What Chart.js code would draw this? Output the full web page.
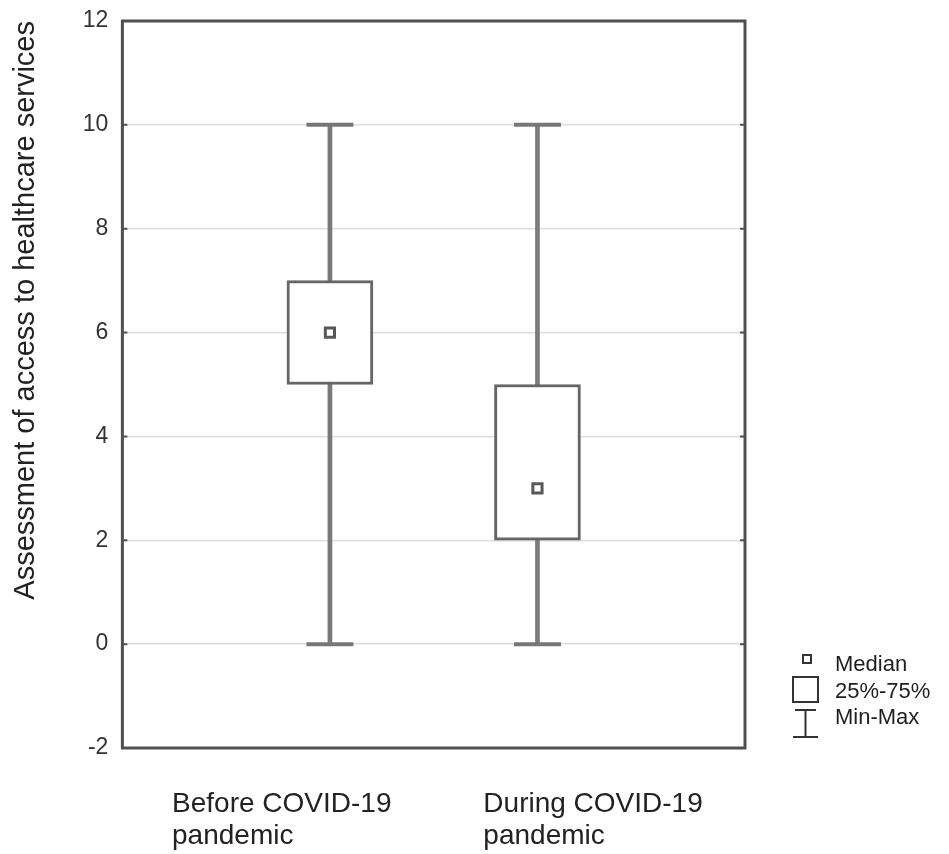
<!DOCTYPE html>
<html>
<head>
<meta charset="utf-8">
<script src="https://cdn.jsdelivr.net/npm/chart.js@4/dist/chart.umd.min.js"></script>
<style>
  html, body { margin: 0; padding: 0; background: #fff; }
  #wrap { width: 949px; height: 854px; }
</style>
</head>
<body>
<div id="wrap"><canvas id="chart"></canvas></div>
<script>
// values
const categories = [['Before COVID-19', 'pandemic'], ['During COVID-19', 'pandemic']];
const minValues = [0, 0];
const q1Values = [5, 2];
const medianValues = [6, 3];
const q3Values = [7, 5];
const maxValues = [10, 10];
const yTickValues = [-2, 0, 2, 4, 6, 8, 10, 12];
const legendLabels = ['Median', '25%-75%', 'Min-Max'];

const FONT = "'Liberation Sans', Arial, sans-serif";

// frame round the plot area
const framePlugin = {
  id: 'frame',
  beforeDatasetsDraw(chart) {
    const { ctx, chartArea: a } = chart;
    ctx.save();
    ctx.strokeStyle = '#505050';
    ctx.lineWidth = 3;
    ctx.strokeRect(a.left, a.top, a.right - a.left, a.bottom - a.top);
    // little inward ticks on both sides
    const y = chart.scales.y;
    ctx.lineWidth = 2;
    yTickValues.forEach(v => {
      const py = y.getPixelForValue(v);
      ctx.beginPath();
      ctx.moveTo(a.left, py); ctx.lineTo(a.left + 5, py);
      ctx.moveTo(a.right, py); ctx.lineTo(a.right - 5, py);
      ctx.stroke();
    });
    ctx.restore();
  }
};

// key at the right, below the plot middle
const keyPlugin = {
  id: 'key',
  afterDraw(chart) {
    const { ctx, chartArea: a } = chart;
    const x0 = a.right + 48;
    const y0 = a.bottom - 89;
    ctx.save();
    ctx.strokeStyle = '#333';
    ctx.lineWidth = 2;
    // median
    ctx.strokeRect(x0 + 10, y0 - 4, 8, 8);
    // box
    ctx.strokeRect(x0, y0 + 18, 25, 25);
    // min-max
    ctx.beginPath();
    ctx.moveTo(x0 + 2, y0 + 51); ctx.lineTo(x0 + 23, y0 + 51);
    ctx.moveTo(x0 + 12.5, y0 + 51); ctx.lineTo(x0 + 12.5, y0 + 78);
    ctx.moveTo(x0, y0 + 78); ctx.lineTo(x0 + 25, y0 + 78);
    ctx.stroke();
    ctx.fillStyle = '#1e1e1e';
    ctx.font = '22px ' + FONT;
    ctx.textBaseline = 'middle';
    ctx.fillText(legendLabels[0], x0 + 42, y0 + 6);
    ctx.fillText(legendLabels[1], x0 + 42, y0 + 33);
    ctx.fillText(legendLabels[2], x0 + 42, y0 + 59);
    ctx.restore();
  }
};

const whiskerData = minValues.map((v, i) => ({ x: i, y: [v, maxValues[i]] }));
const boxData = q1Values.map((v, i) => ({ x: i, y: [v, q3Values[i]] }));
const capData = [];
minValues.forEach((v, i) => { capData.push({ x: i, y: v }); capData.push({ x: i, y: maxValues[i] }); });
const medianData = medianValues.map((v, i) => ({ x: i, y: v }));

new Chart(document.getElementById('chart'), {
  type: 'bar',
  data: {
    labels: categories,
    datasets: [
      {
        label: 'Median',
        type: 'scatter',
        data: medianData,
        xAxisID: 'xb',
        pointStyle: 'rect',
        pointRadius: 6.5,
        borderColor: '#585858',
        backgroundColor: '#fff',
        borderWidth: 3,
        order: 0
      },
      {
        label: '25%-75%',
        data: boxData,
        xAxisID: 'xb',
        grouped: false,
        barThickness: 86,
        backgroundColor: '#fff',
        borderColor: '#666',
        borderWidth: 3,
        borderSkipped: false,
        order: 1
      },
      {
        label: 'Min-Max caps',
        type: 'scatter',
        data: capData,
        xAxisID: 'xb',
        pointStyle: 'line',
        pointRadius: 23.5,
        borderColor: '#777',
        borderWidth: 4,
        order: 2
      },
      {
        label: 'Min-Max',
        data: whiskerData,
        xAxisID: 'xb',
        grouped: false,
        barThickness: 4,
        backgroundColor: '#7a7a7a',
        borderWidth: 0,
        order: 3
      }
    ]
  },
  options: {
    responsive: true,
    maintainAspectRatio: false,
    animation: false,
    layout: { autoPadding: false, padding: { top: 21, right: 204, bottom: 0, left: 0 } },
    plugins: {
      legend: { display: false },
      tooltip: { enabled: false }
    },
    scales: {
      x: {
        type: 'category',
        offset: true,
        grid: { display: false },
        border: { display: false },
        afterFit: scale => { scale.height = 106; },
        ticks: {
          align: 'start',
          labelOffset: -106,
          padding: 33,
          color: '#222',
          font: { family: FONT, size: 28, lineHeight: 1.12 }
        }
      },
      xb: {
        type: 'linear',
        display: false,
        offset: false,
        grid: { offset: false },
        min: -1,
        max: 2
      },
      y: {
        min: -2,
        max: 12,
        afterBuildTicks: scale => { scale.ticks = yTickValues.map(v => ({ value: v })); },
        grid: { color: '#dedede', lineWidth: 1.5, drawTicks: false },
        border: { display: false },
        ticks: {
          padding: 14,
          color: '#333',
          font: { family: FONT, size: 23, lineHeight: 0.5 }
        },
        title: {
          display: true,
          text: 'Assessment of access to healthcare services',
          align: 'end',
          color: '#222',
          padding: { top: 9, bottom: 25 },
          font: { family: FONT, size: 29, lineHeight: 1.2 }
        }
      }
    }
  },
  plugins: [framePlugin, keyPlugin]
});
</script>
</body>
</html>
